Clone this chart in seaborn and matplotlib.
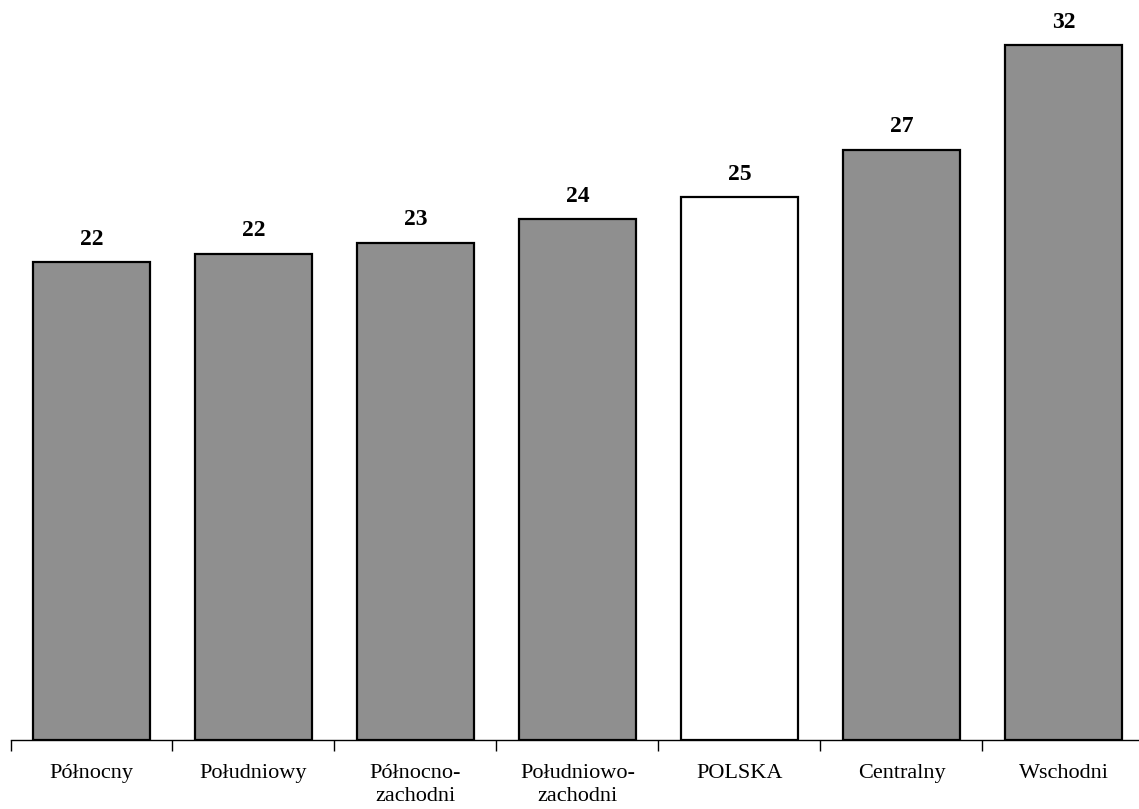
import matplotlib
matplotlib.use("Agg")
import matplotlib.pyplot as plt
import seaborn as sns
import numpy as np
import pandas as pd

regions = ["Północny", "Południowy", "Północno-\nzachodni", "Południowo-\nzachodni",
           "POLSKA", "Centralny", "Wschodni"]
values = [22.0, 22.4, 22.9, 24.0, 25.0, 27.2, 32.0]
colors = ["#8f8f8f", "#8f8f8f", "#8f8f8f", "#8f8f8f", "white", "#8f8f8f", "#8f8f8f"]

sns.set_theme(style="white")
plt.rcParams['font.family'] = ['Liberation Serif', 'DejaVu Serif']

df = pd.DataFrame({"region": regions, "value": values})

fig = plt.figure(figsize=(11.39, 8.09), dpi=100)
ax = fig.add_axes([10.5 / 1139, 69 / 809, 1134 / 1139, 738 / 809])

sns.barplot(data=df, x="region", y="value", hue="region", palette=colors,
            legend=False, width=0.72, edgecolor="black", linewidth=1.6,
            saturation=1, ax=ax)

for c in ax.containers:
    ax.bar_label(c, fmt="%.0f", padding=9, fontsize=17, fontweight="bold",
                 color="black")

ax.set_ylim(0, 34)
ax.set_xlim(-0.5, len(regions) - 0.5)
ax.set_xlabel("")
ax.set_ylabel("")
ax.set_yticks([])
for s in ["top", "left", "right"]:
    ax.spines[s].set_visible(False)
ax.spines["bottom"].set_linewidth(1.0)
ax.spines["bottom"].set_color("black")

ax.set_xticks(np.arange(len(regions) + 1) - 0.5, minor=True)
ax.tick_params(axis="x", which="minor", length=8, width=1, color="black", bottom=True)
ax.tick_params(axis="x", which="major", length=0, pad=17, labelsize=16,
               labelcolor="black")
for t in ax.get_xticklabels():
    t.set_linespacing(1.3)
    t.set_verticalalignment("top")

fig.savefig("out.png", dpi=100)
